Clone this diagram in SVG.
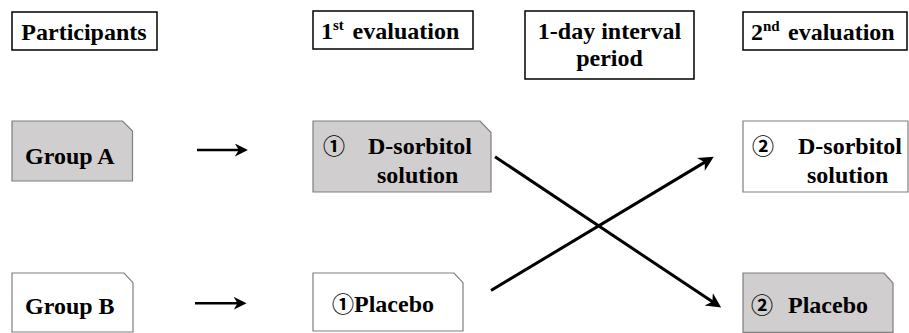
<svg xmlns="http://www.w3.org/2000/svg" width="909" height="333" viewBox="0 0 909 333">
<style>
text{font-weight:bold;font-size:24px;fill:#000}
.c{font-weight:bold;font-size:22px}
.hdr{fill:#fff;stroke:#000;stroke-width:1.5}
.gray{fill:#d0cece;stroke:#7f7f7f;stroke-width:1.2}
.white{fill:#fff;stroke:#7f7f7f;stroke-width:1.2}
.conn{stroke:#000;fill:none;marker-end:url(#ah)}
</style>
<defs>
<marker id="ah" viewBox="0 0 10 10" refX="7" refY="5" markerWidth="5" markerHeight="5" orient="auto" markerUnits="strokeWidth">
<path d="M0,0 L10,5 L0,10 L3,5 Z" fill="#000"/>
</marker>
</defs>
<g font-family="Liberation Serif, Times New Roman, serif">
<g id="hdr-participants">
<rect class="hdr" x="12" y="12" width="145" height="38"/>
<text x="84" y="39.5" text-anchor="middle">Participants</text>
</g>
<g id="hdr-first">
<rect class="hdr" x="313" y="11" width="160" height="38"/>
<text x="321" y="39"><tspan>1</tspan><tspan font-size="15" dy="-9">st</tspan><tspan x="352.6" dy="9">evaluation</tspan></text>
</g>
<g id="hdr-interval">
<rect class="hdr" x="525" y="11" width="169" height="68"/>
<text x="609.5" y="39" text-anchor="middle">1-day interval</text>
<text x="609.5" y="65.5" text-anchor="middle">period</text>
</g>
<g id="hdr-second">
<rect class="hdr" x="743" y="12" width="164" height="38"/>
<text x="751" y="39.5"><tspan>2</tspan><tspan font-size="15" dy="-9">nd</tspan><tspan x="788" dy="9">evaluation</tspan></text>
</g>

<g id="groupA">
<path class="gray" d="M12,121 H122.5 L132.5,131 V181 H12 Z"/>
<text x="25" y="163.5">Group A</text>
</g>
<g id="groupB">
<path class="white" d="M12,273 H124 L133,282.7 V332 H12 Z"/>
<text x="25" y="314">Group B</text>
</g>
<g id="sorbitol1">
<path class="gray" d="M313,121 H480 L491,132.5 V192 H313 Z"/>
<text class="c" x="323" y="154" font-family="Noto Sans CJK JP, DejaVu Sans, sans-serif">①</text>
<text x="368" y="154">D-sorbitol</text>
<text x="377" y="183">solution</text>
</g>
<g id="placebo1">
<path class="white" d="M313,273 H454 L463,282.7 V331 H313 Z"/>
<text class="c" x="332" y="312" font-family="Noto Sans CJK JP, DejaVu Sans, sans-serif">①</text>
<text x="354" y="312">Placebo</text>
</g>
<g id="sorbitol2">
<path class="white" d="M743,121 H908 V192 H743 Z"/>
<text class="c" x="752" y="154" font-size="24" font-family="Noto Sans CJK JP, DejaVu Sans, sans-serif">②</text>
<text x="798" y="154">D-sorbitol</text>
<text x="807" y="183">solution</text>
</g>
<g id="placebo2">
<path class="gray" d="M743,273 H884 L893,283 V332.4 H743 Z"/>
<text class="c" x="751" y="313" font-size="24" font-family="Noto Sans CJK JP, DejaVu Sans, sans-serif">②</text>
<text x="788" y="313">Placebo</text>
</g>
</g>
<g id="connectors">
<line class="conn" x1="197" y1="150" x2="244" y2="150" stroke-width="2.6"/>
<line class="conn" x1="195" y1="303.3" x2="242.7" y2="303.3" stroke-width="2.6"/>
<line class="conn" x1="495" y1="156.7" x2="717.4" y2="305.1" stroke-width="3"/>
<line class="conn" x1="491" y1="290.5" x2="709.9" y2="159.1" stroke-width="3"/>
</g>
</svg>
